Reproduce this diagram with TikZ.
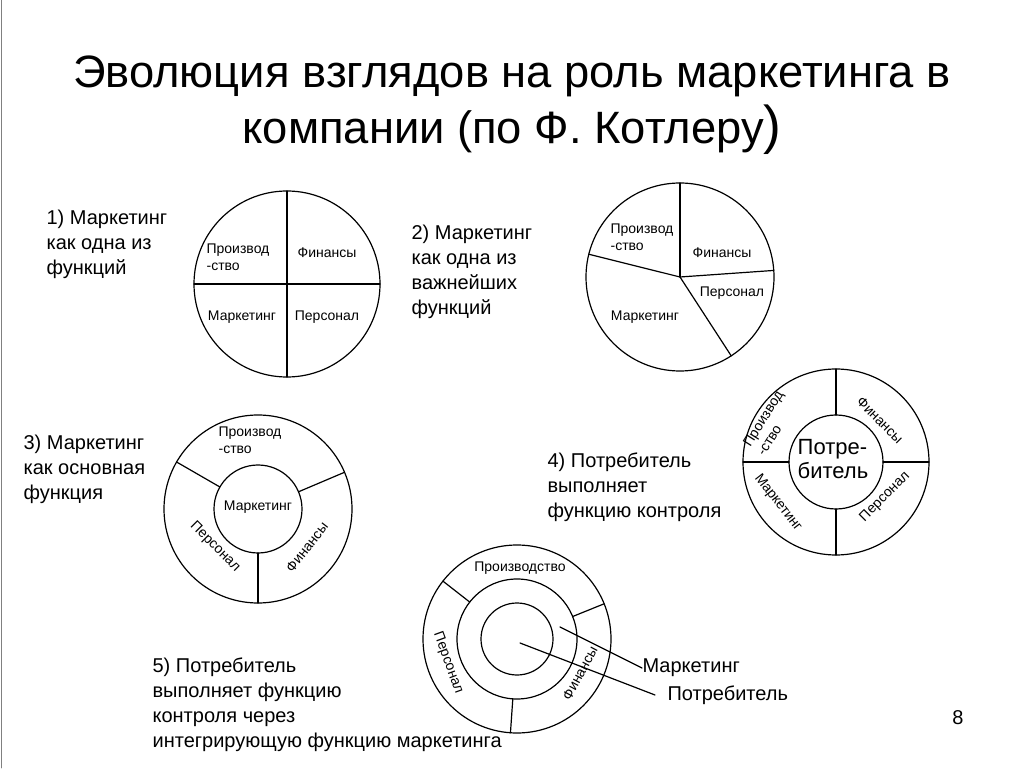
\documentclass[tikz,border=0pt]{standalone}
\usepackage{fontspec}
\setmainfont{Liberation Sans}
\usetikzlibrary{positioning}

\begin{document}
\begin{tikzpicture}[line cap=round,line join=round,x=0.75pt,y=0.75pt,line width=0.9pt,
  lbl/.style={font=\fontsize{10.5}{12.5}\selectfont,inner sep=0pt,align=left},
  txtblock/.style={font=\fontsize{15}{18.75}\selectfont,inner sep=0pt,align=left,anchor=north west},
  lead/.style={font=\fontsize{15}{18.75}\selectfont,inner sep=0pt,anchor=west}]
\useasboundingbox (0,0) rectangle (1024,768);
\fill[white] (0,0) rectangle (1024,768);
\draw[gray,line width=0.6pt] (1,0) -- (1,768);
% title
\node[font=\fontsize{34}{42}\selectfont,align=center,inner sep=0pt] (title) at (512,663)
  {Эволюция взглядов на роль маркетинга в\\компании (по Ф. Котлеру{\fontsize{40}{42}\selectfont)}};
% 1) four equal parts
\draw (287,484) circle (93);
\draw (287,391) -- (287,577);
\draw (194,484) -- (380,484);
\node[lbl] (pr1) at (238,511) {Производ\\-ство};
\node[lbl] (fi1) at (327,515) {Финансы};
\node[lbl] (ma1) at (242,451) {Маркетинг};
\node[lbl] (pe1) at (327,451) {Персонал};
\node[txtblock] (t1) at (46,559) {1) Маркетинг\\как одна из\\функций};
% 2) unequal parts
\draw (680,491) circle (94);
\foreach \a in {90,4,-57,166}
  \draw (680,491) -- ++(\a:94);
\node[lbl] (pr2) at (642,531) {Производ\\-ство};
\node[lbl] (fi2) at (722,515) {Финансы};
\node[lbl] (pe2) at (732,475) {Персонал};
\node[lbl] (ma2) at (645,451) {Маркетинг};
\node[txtblock] (t2) at (411,544) {2) Маркетинг\\как одна из\\важнейших\\функций};
% 3) marketing in the middle
\draw (258,259) circle (94);
\draw (258,259) circle (44);
\foreach \a in {150,23,270}
  \draw (258,259) ++(\a:44) -- ++(\a:50);
\node[lbl] (pr3) at (250,328) {Производ\\-ство};
\node[lbl] (ma3) at (258,261) {Маркетинг};
\node[lbl,rotate=-45] (pe3) at (215,221) {Персонал};
\node[lbl,rotate=52] (fi3) at (307,221) {Финансы};
\node[txtblock] (t3) at (23,334) {3) Маркетинг\\как основная\\функция};
% 4) consumer in the middle
\draw (836,306) circle (93);
\draw (836,306) circle (47);
\foreach \a in {0,90,180,270}
  \draw (836,306) ++(\a:47) -- ++(\a:46);
\node[font=\fontsize{16.5}{18}\selectfont,align=left,inner sep=0pt] (po4) at (833,309) {Потре-\\битель};
\node[lbl,rotate=58] (pr4) at (770,345) {Производ\\-ство};
\node[lbl,rotate=-45] (fi4) at (880,348) {Финансы};
\node[lbl,rotate=-52] (ma4) at (778,265) {Маркетинг};
\node[lbl,rotate=45] (pe4) at (885,271) {Персонал};
\node[txtblock] (t4) at (547,316) {4) Потребитель\\выполняет\\функцию контроля};
% 5) consumer and integrating marketing
\draw (517,129) circle (94);
\draw (517,129) circle (60);
\draw (517,129) circle (36);
\foreach \a in {142,22,266}
  \draw (517,129) ++(\a:60) -- ++(\a:34);
\node[lbl] (pr5) at (520,200) {Производство};
\node[lbl,rotate=-70] (pe5) at (448,105) {Персонал};
\node[lbl,rotate=62] (fi5) at (580,95) {Финансы};
\coordinate (m5) at (560,141);
\coordinate (c5) at (520,125);
\node[lead] (mk5) at (642,100) {Маркетинг};
\node[lead] (po5) at (667,73) {Потребитель};
\draw (m5) -- (mk5.west);
\draw (c5) -- ([xshift=-9]po5.west);
\node[txtblock] (t5) at (152,111) {5) Потребитель\\выполняет функцию\\контроля через\\интегрирующую функцию маркетинга};
% page number
\node[font=\fontsize{15}{16}\selectfont,inner sep=0pt] (pg) at (958,50) {8};
\end{tikzpicture}
\end{document}
